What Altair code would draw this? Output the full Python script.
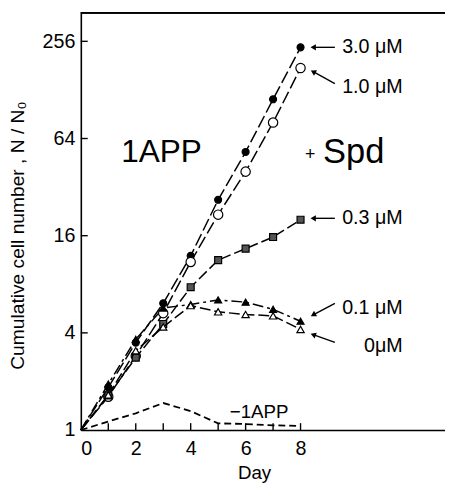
import altair as alt
import pandas as pd

# ---- data ----
days = [0, 1, 2, 3, 4, 5, 6, 7, 8]
c30 = [1, 1.84, 3.48, 6.1, 12.0, 26.7, 52.8, 112, 235]
c10 = [1, 1.61, 2.88, 5.3, 11.0, 21.6, 39.9, 80.4, 175]
c03 = [1, 1.64, 2.81, 4.54, 7.67, 11.3, 13.3, 15.7, 20.1]
c01 = [1, 1.93, 3.65, 5.7, 6.0, 6.4, 6.2, 5.6, 4.72]
c00 = [1, 1.65, 3.1, 4.35, 5.9, 5.4, 5.2, 5.1, 4.2]
no_app = [1, 1.13, 1.27, 1.47, 1.31, 1.10, 1.09, 1.07, 1.06]

series_labels = ["3.0 \u03bcM", "1.0 \u03bcM", "0.3 \u03bcM", "0.1 \u03bcM", "0\u03bcM"]
label_x = [11.72, 11.72, 11.72, 11.72, 11.72]
label_y = [235, 134, 20.5, 5.7, 3.3]
arrow_x1 = [9.25, 9.25, 9.25, 9.25, 9.25]
arrow_y1 = [235, 140, 20.5, 6.1, 3.49]
arrow_x2 = [8.46, 8.46, 8.46, 8.46, 8.46]
arrow_y2 = [235, 166, 20.5, 5.17, 3.9]
arrow_angle = [0, 29, 0, 331, 20]

x_ticks = [0, 2, 4, 6, 8]
x_minor = [1, 2, 3, 4, 5, 6, 7, 8]
y_ticks = [1, 4, 16, 64, 256]

FONT = "Liberation Sans"
W, H = 370, 424

xscale = alt.Scale(domain=[0, 13.26], nice=False, zero=False)
yscale = alt.Scale(type="log", base=2, domain=[1, 385], nice=False)
xaxis = alt.Axis(values=x_ticks, format="d", ticks=False, tickSize=0, grid=False,
                 labelFontSize=20, labelPadding=9, labelFont=FONT, labelColor="black",
                 domainColor="black", domainWidth=1.6, title="Day", titleFont=FONT,
                 titleFontSize=19, titleFontWeight="normal", titleX=176, titleY=34,
                 titleColor="black")
yaxis = alt.Axis(values=y_ticks, format="d", ticks=False, tickSize=0, grid=False,
                 labelFontSize=20, labelPadding=6, labelFont=FONT, labelColor="black",
                 domainColor="black", domainWidth=1.6,
                 title="Cumulative cell number , N / N\u2080", titleFont=FONT,
                 titleFontSize=19.5, titleFontWeight="normal", titleAngle=-90,
                 titleBaseline="middle", titleAlign="center", titleX=-64, titleY=226,
                 titleColor="black")


def X(f):
    return alt.X(f, type="quantitative", scale=xscale, axis=xaxis)


def Y(f):
    return alt.Y(f, type="quantitative", scale=yscale, axis=yaxis)


layers = []

specs = [
    (c30, [13, 4], "circle", "black", 50),
    (c10, [13, 4], "circle", "white", 90),
    (c03, [11, 4], "square", "#555555", 50),
    (c01, [11, 4, 3, 4], "triangle-up", "black", 50),
    (c00, [11, 4], "triangle-up", "white", 55),
]
for vals, dash, shape, fill, size in specs:
    df = pd.DataFrame({"day": days, "value": vals})
    layers.append(alt.Chart(df).mark_line(color="black", strokeWidth=1.5, strokeDash=dash)
                  .encode(x=X("day"), y=Y("value")))
    layers.append(alt.Chart(df[df.day > 0]).mark_point(shape=shape, filled=True, fill=fill,
                                                       stroke="black", strokeWidth=1.2,
                                                       size=size, opacity=1)
                  .encode(x=X("day"), y=Y("value")))

df_no = pd.DataFrame({"day": days, "value": no_app})
layers.append(alt.Chart(df_no).mark_line(color="black", strokeWidth=1.8, strokeDash=[7, 4])
              .encode(x=X("day"), y=Y("value")))

# series labels and arrows
df_lab = pd.DataFrame({"day": label_x, "value": label_y, "t": series_labels})
layers.append(alt.Chart(df_lab).mark_text(align="right", baseline="middle", font=FONT,
                                          fontSize=20, color="black")
              .encode(x=X("day"), y=Y("value"), text="t:N"))
df_arr = pd.DataFrame({"day": arrow_x1, "value": arrow_y1, "x2": arrow_x2, "y2": arrow_y2,
                       "ang": arrow_angle})
layers.append(alt.Chart(df_arr).mark_rule(color="black", strokeWidth=1.4)
              .encode(x=X("day"), y=Y("value"), x2="x2:Q", y2="y2:Q"))
layers.append(alt.Chart(df_arr).mark_point(shape="triangle-left", filled=True, color="black",
                                           size=40, opacity=1)
              .encode(x=alt.X("x2:Q", scale=xscale, axis=xaxis), y=alt.Y("y2:Q", scale=yscale, axis=yaxis),
                      angle=alt.Angle("ang:Q", scale=None)))

# big annotations
df_big = pd.DataFrame({"day": [1.47], "value": [52.4], "t": ["1APP"]})
layers.append(alt.Chart(df_big).mark_text(align="left", baseline="middle", font=FONT,
                                          fontSize=32, color="black")
              .encode(x=X("day"), y=Y("value"), text="t:N"))
df_spd = pd.DataFrame({"day": [8.82], "value": [52.4], "t": ["Spd"]})
layers.append(alt.Chart(df_spd).mark_text(align="left", baseline="middle", font=FONT,
                                          fontSize=35, color="black")
              .encode(x=X("day"), y=Y("value"), text="t:N"))
df_plus = pd.DataFrame({"day": [8.35], "value": [50.5], "t": ["+"]})
layers.append(alt.Chart(df_plus).mark_text(align="center", baseline="middle", font=FONT,
                                           fontSize=18, color="black")
              .encode(x=X("day"), y=Y("value"), text="t:N"))
df_m = pd.DataFrame({"day": [6.49], "value": [1.29], "t": ["\u22121APP"]})
layers.append(alt.Chart(df_m).mark_text(align="center", baseline="middle", font=FONT,
                                        fontSize=19, color="black")
              .encode(x=X("day"), y=Y("value"), text="t:N"))

# inward ticks
df_xt = pd.DataFrame({"day": x_minor})
layers.append(alt.Chart(df_xt).mark_rule(color="black", strokeWidth=1.4)
              .encode(x=X("day"), y=alt.value(H), y2=alt.value(H - 7)))
df_yt = pd.DataFrame({"value": y_ticks[1:]})
layers.append(alt.Chart(df_yt).mark_rule(color="black", strokeWidth=1.4)
              .encode(y=Y("value"), x=alt.value(0), x2=alt.value(7)))
# top frame line
layers.append(alt.Chart(df_yt).mark_rule(color="black", strokeWidth=1.6)
              .encode(x=alt.value(0), x2=alt.value(W), y=alt.value(0)))

chart = alt.layer(*layers).properties(
    width=W, height=H,
    autosize=alt.AutoSizeParams(type="none"),
    padding={"left": 74, "top": 1, "right": 0, "bottom": 50},
).configure_view(stroke=None).configure(background="white")

chart.save("out.html", embed_options={"renderer": "svg", "actions": False})
